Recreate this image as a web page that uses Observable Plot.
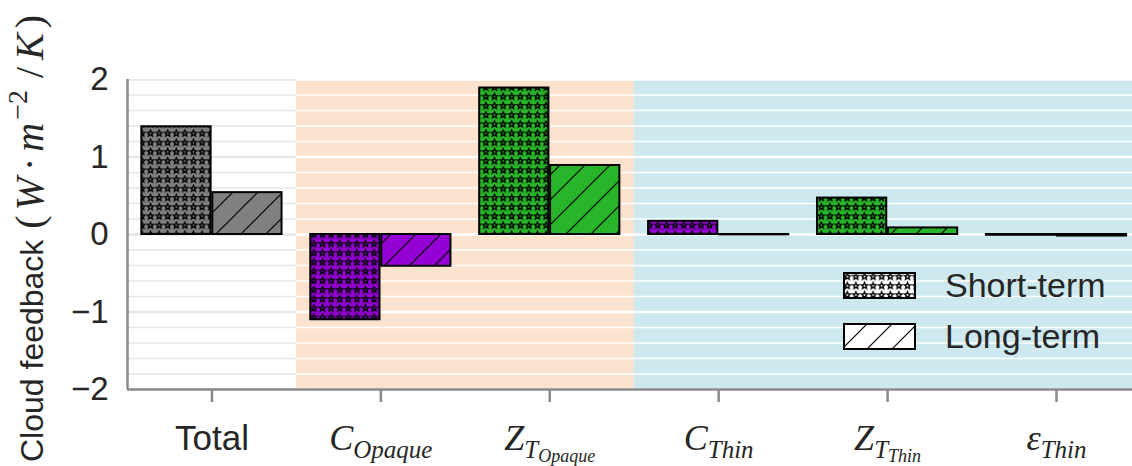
<!DOCTYPE html>
<html>
<head>
<meta charset="utf-8">
<script src="https://cdn.jsdelivr.net/npm/d3@7"></script>
<script src="https://cdn.jsdelivr.net/npm/@observablehq/plot@0.6"></script>
<style>
  body { margin: 0; background: #fff; }
  #wrap { position: relative; width: 1132px; height: 466px; overflow: hidden; }
  #legend { position: absolute; left: 843px; top: 272px; font-family: "Liberation Sans", Arial, sans-serif; font-size: 34px; color: #262626; }
  .item { display: flex; align-items: center; height: 27px; margin-bottom: 24px; white-space: nowrap; }
  .item svg { display: block; margin-right: 29px; }
</style>
</head>
<body>
<svg width="0" height="0" style="position:absolute">
  <defs>
    <pattern id="stars" patternUnits="userSpaceOnUse" width="8.6" height="9.2">
      <path id="starpath" fill="none" stroke="#000" stroke-width="1.35"></path>
    </pattern>
    <pattern id="hatch" patternUnits="userSpaceOnUse" width="25" height="25">
      <path d="M-3,3 L3,-3 M0,25 L25,0 M22,28 L28,22" stroke="#000" stroke-width="1.2" fill="none"></path>
    </pattern>
  </defs>
</svg>
<div id="wrap">
  <div id="chart"></div>
  <div id="legend"></div>
</div>
<script>
// ---------- data ----------
const categories = ["Total", "C_Opaque", "Z_T_Opaque", "C_Thin", "Z_T_Thin", "eps_Thin"];
const shortTerm = [1.39, -1.10, 1.89, 0.17, 0.47, -0.01];
const longTerm = [0.54, -0.41, 0.89, -0.005, 0.085, -0.02];
const barColors = ["#808080", "#9400d3", "#29b529", "#9400d3", "#29b529", "#808080"];
const seriesNames = ["Short-term", "Long-term"];
const seriesPatterns = ["url(#stars)", "url(#hatch)"];

const regionNames = ["All", "Opaque", "Thin"];
const regionStart = [-0.5, 0.5, 2.5];
const regionEnd = [0.5, 2.5, 5.5];
const regionColors = ["#ffffff", "#fde3cd", "#cde8ef"];
const regionGridColors = ["#e6e6e6", "#ffffff", "#ffffff"];

const yMajorTicks = [-2, -1, 0, 1, 2];
const yMinorTicks = [-1.8, -1.6, -1.4, -1.2, -0.8, -0.6, -0.4, -0.2, 0.2, 0.4, 0.6, 0.8, 1.2, 1.4, 1.6, 1.8];

// tick label pieces: [text, level(0 base,1 sub,2 subsub), italic serif?]
const tickLabelParts = {
  "Total": [["Total", 0, false]],
  "C_Opaque": [["C", 0, true], ["Opaque", 1, true]],
  "Z_T_Opaque": [["Z", 0, true], ["T", 1, true], ["Opaque", 2, true]],
  "C_Thin": [["C", 0, true], ["Thin", 1, true]],
  "Z_T_Thin": [["Z", 0, true], ["T", 1, true], ["Thin", 2, true]],
  "eps_Thin": [["ε", 0, true], ["Thin", 1, true]]
};

// y-axis label pieces: [text, italic, size, dx, dy]
const yLabelText = "Cloud feedback ";
const yLabelMath = [
  ["(", false, 40, 2, 0],
  ["W", true, 40, 5, 0],
  ["·", false, 40, 6, 0],
  ["m", true, 40, 6, 0],
  ["−2", false, 28, 3, -16],
  ["/", false, 40, 12, 16],
  ["K", true, 40, 7, 0],
  [")", false, 40, 5, 0]
];

// ---------- star pattern ----------
(function () {
  const pts = [];
  for (let k = 0; k < 10; k++) {
    const a = -Math.PI / 2 + k * Math.PI / 5;
    const rad = k % 2 ? 1.45 : 3.3;
    pts.push([(4.3 + rad * Math.cos(a)).toFixed(2), (4.6 + rad * Math.sin(a)).toFixed(2)]);
  }
  document.getElementById("starpath").setAttribute("d", "M" + pts.map(p => p.join(",")).join("L") + "Z");
})();

// ---------- tables ----------
const barW = 0.41, gap = 0.005;
const bars = [];
categories.forEach((c, i) => {
  bars.push({cat: c, series: seriesNames[0], x1: i - barW - gap, x2: i - gap, value: shortTerm[i], color: barColors[i]});
  bars.push({cat: c, series: seriesNames[1], x1: i + gap, x2: i + barW + gap, value: longTerm[i], color: barColors[i]});
});
const regions = regionNames.map((n, r) => ({name: n, x1: regionStart[r], x2: regionEnd[r], color: regionColors[r]}));
const gridMinor = [], gridMajor = [];
regionNames.forEach((n, r) => {
  yMinorTicks.forEach(v => gridMinor.push({x1: regionStart[r], x2: regionEnd[r], y: v, color: regionGridColors[r]}));
  yMajorTicks.forEach(v => gridMajor.push({x1: regionStart[r], x2: regionEnd[r], y: v, color: regionGridColors[r]}));
});

const axisGray = "#8a8a8a";

const plot = Plot.plot({
  width: 1132,
  height: 466,
  marginLeft: 127,
  marginRight: 0,
  marginTop: 79,
  marginBottom: 77,
  x: {type: "linear", domain: [-0.5, 5.45]},
  y: {domain: [-2, 2]},
  color: {type: "identity"},
  style: {fontFamily: "Liberation Sans, Arial, sans-serif", fontSize: "33px", color: "#262626", background: "white"},
  marks: [
    Plot.rect(regions, {x1: "x1", x2: "x2", fill: "color", clip: true}),
    Plot.ruleY(gridMinor, {x1: "x1", x2: "x2", y: "y", stroke: "color", strokeWidth: 1.3, clip: true}),
    Plot.ruleY(gridMajor, {x1: "x1", x2: "x2", y: "y", stroke: "color", strokeWidth: 2.6, clip: true}),
    Plot.rectY(bars, {x1: "x1", x2: "x2", y: "value", fill: "color"}),
    Plot.rectY(bars.filter(d => d.series === seriesNames[0]), {x1: "x1", x2: "x2", y: "value", fill: seriesPatterns[0], stroke: "#000", strokeWidth: 2}),
    Plot.rectY(bars.filter(d => d.series === seriesNames[1]), {x1: "x1", x2: "x2", y: "value", fill: seriesPatterns[1], stroke: "#000", strokeWidth: 2}),
    Plot.ruleX([-0.5], {stroke: axisGray, strokeWidth: 2.5}),
    Plot.ruleY([-2], {stroke: axisGray, strokeWidth: 2.5}),
    Plot.axisY({ticks: yMajorTicks, tickFormat: "d", tickSize: 0, tickPadding: 19, fontSize: 33, label: null}),
    Plot.axisX({ticks: categories.map((c, i) => i), tickFormat: i => categories[i], tickSize: 13, tickPadding: 23, fontSize: 35, stroke: axisGray, strokeWidth: 2.5, label: null})
  ]
});
document.getElementById("chart").appendChild(plot);

// ---------- math tick labels ----------
const svg = d3.select(plot);
const sizes = [36, 25, 18];
const shifts = [0, 8, 4];
svg.selectAll('g[aria-label="x-axis tick label"] text').each(function () {
  const key = this.textContent;
  const parts = tickLabelParts[key];
  if (!parts) return;
  const t = d3.select(this);
  t.text(null);
  parts.forEach(([txt, lvl, it]) => {
    const ts = t.append("tspan").text(txt);
    if (it) ts.attr("font-family", "Liberation Serif, serif").attr("font-style", "italic").attr("font-size", sizes[lvl]);
    if (lvl > 0) ts.attr("dy", shifts[lvl]);
  });
});

// ---------- y label ----------
const yl = svg.append("text")
  .attr("transform", "translate(43,462) rotate(-90)")
  .attr("text-anchor", "start")
  .attr("fill", "#262626")
  .attr("font-size", 32);
yl.append("tspan").text(yLabelText);
yLabelMath.forEach(([txt, it, fs, dx, dy]) => {
  const ts = yl.append("tspan").text(txt).attr("font-family", "Liberation Serif, serif").attr("font-size", fs).attr("dx", dx);
  if (dy) ts.attr("dy", dy);
  if (it) ts.attr("font-style", "italic");
});

// ---------- legend ----------
const legend = d3.select("#legend");
seriesNames.forEach((name, s) => {
  const item = legend.append("div").attr("class", "item");
  const sw = item.append("svg").attr("width", 73).attr("height", 27);
  sw.append("rect").attr("x", 1).attr("y", 1).attr("width", 71).attr("height", 25).attr("fill", "#fff");
  sw.append("rect").attr("x", 1).attr("y", 1).attr("width", 71).attr("height", 25)
    .attr("fill", seriesPatterns[s]).attr("stroke", "#000").attr("stroke-width", 2);
  item.append("span").text(name);
});
</script>
</body>
</html>
